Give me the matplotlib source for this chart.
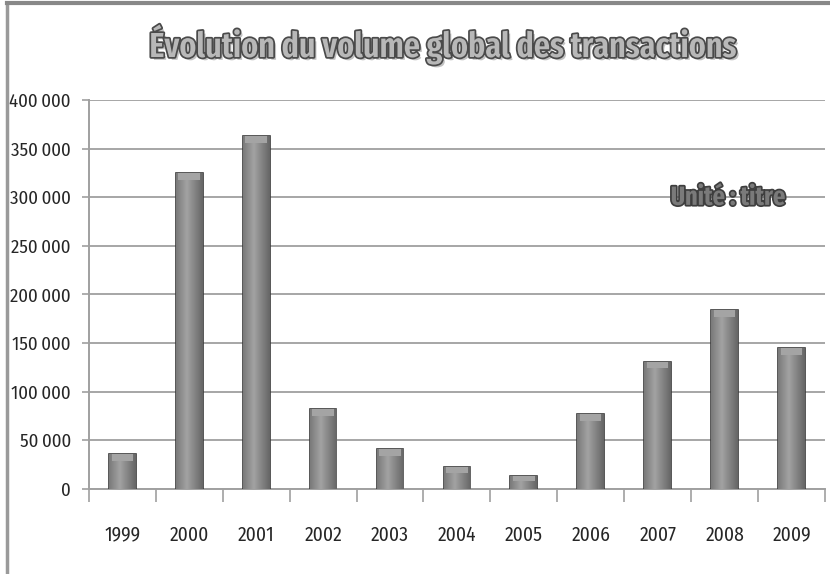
import numpy as np
import matplotlib.pyplot as plt
import matplotlib.patheffects as pe
from matplotlib.ticker import FuncFormatter
from matplotlib.lines import Line2D

# donnees
annees = ["1999", "2000", "2001", "2002", "2003", "2004", "2005", "2006", "2007", "2008", "2009"]
volumes = [36000, 325000, 363000, 82000, 41000, 23000, 13500, 77000, 131000, 184000, 145000]
titre = "Évolution du volume global des transactions"
unite = "Unité : titre"
y_ticks = [0, 50000, 100000, 150000, 200000, 250000, 300000, 350000, 400000]

police = ['Fira Sans Condensed', 'Roboto Condensed', 'Carlito', 'Liberation Sans', 'DejaVu Sans']
police_titre = ['Fira Sans Extra Condensed', 'Roboto Condensed', 'Carlito', 'Liberation Sans', 'DejaVu Sans']
plt.rcParams['font.family'] = police

fig = plt.figure(figsize=(8.3, 5.74), dpi=100)
ax = fig.add_axes([0.107, 0.148, 0.887, 0.678])

x = np.arange(len(annees))
largeur = 0.4

# barres avec degrade horizontal
grad = np.linspace(0, 1, 64)
grad = 1 - np.abs(grad - 0.4) * 1.3
grad = grad.reshape(1, -1)
barres = ax.bar(x, volumes, width=largeur, color='#5a5a5a', edgecolor='#3a3a3a',
                linewidth=1.2, zorder=3)
for b in barres:
    im = ax.imshow(grad, cmap='gray', vmin=-1.1, vmax=2.2, aspect='auto',
                   extent=[b.get_x(), b.get_x() + b.get_width(), 0, b.get_height()],
                   zorder=3.5)
    im.set_clip_path(b)

# biseau clair en haut des barres
cap = 7000
ax.bar(x, [min(cap, v * 0.35) for v in volumes],
       bottom=[v - min(cap, v * 0.35) for v in volumes],
       width=largeur * 0.8, color='#a4a4a4', linewidth=0, zorder=4)

ax.set_xlim(-0.5, len(annees) - 0.5)
ax.set_ylim(0, 400000)
ax.set_yticks(y_ticks)
ax.yaxis.set_major_formatter(FuncFormatter(lambda v, p: f"{int(v):,}".replace(",", "\u2009")))
ax.set_xticks(x)
ax.set_xticklabels(annees)
ax.set_xticks(np.arange(len(annees) + 1) - 0.5, minor=True)

ax.grid(axis='y', color='#a6a6a6', linewidth=1.4, zorder=0)
ax.set_axisbelow(True)
for s in ['top', 'right']:
    ax.spines[s].set_visible(False)
for s in ['left', 'bottom']:
    ax.spines[s].set_color('#a0a0a0')
    ax.spines[s].set_linewidth(1.4)

ax.tick_params(axis='y', labelsize=13.5, colors='#a0a0a0', labelcolor='#262626',
               length=5, width=1.2, pad=8)
ax.tick_params(axis='x', which='major', labelsize=14, labelcolor='#262626',
               length=0, pad=26)
ax.tick_params(axis='x', which='minor', colors='#a0a0a0', length=9, width=1.2)

# titre avec contour
fig.text(0.533, 0.922, titre, ha='center', va='center', fontsize=25, fontweight=600,
         family=police_titre, color='#b8b8b8',
         path_effects=[pe.SimplePatchShadow(offset=(2, -2), shadow_rgbFace='#9a9a9a', alpha=0.6),
                       pe.withStroke(linewidth=2.5, foreground='#4a4a4a')])

ax.text(0.868, 0.75, unite, transform=ax.transAxes, ha='center', va='center',
        fontsize=19, fontweight='bold', family=police_titre, color='#7a7a7a',
        path_effects=[pe.withStroke(linewidth=2.5, foreground='#3e3e3e')])

# cadre
fig.add_artist(Line2D([0.008, 0.008], [0, 0.994], color='#9a9a9a', linewidth=2.5))
fig.add_artist(Line2D([0.008, 1], [0.994, 0.994], color='#888888', linewidth=3))

plt.savefig("out.png")
